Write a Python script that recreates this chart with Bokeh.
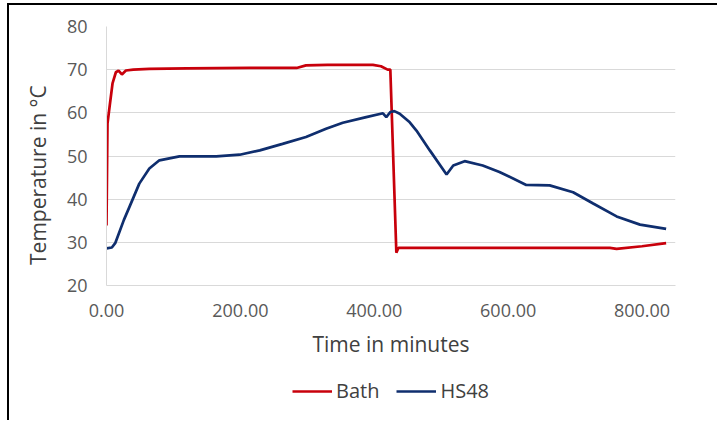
import math
from bokeh.plotting import figure
from bokeh.layouts import column
from bokeh.models import Range1d, Legend, LegendItem, FixedTicker, NumeralTickFormatter
from bokeh.embed import file_html
from bokeh.resources import INLINE

# ---- data ----
bath_time = [0, 1.5, 4.5, 9, 14, 18, 23, 29, 40, 64, 120, 214, 284, 298, 330,
             370, 398, 410, 420, 424, 433, 436, 500, 600, 700, 752, 762, 800, 836]
bath_temp = [33.9, 57.5, 61.3, 66.8, 69.4, 69.8, 68.9, 69.8, 70.0, 70.2, 70.3, 70.4, 70.4, 71.0, 71.1,
             71.1, 71.1, 70.8, 70.0, 70.0, 27.6, 28.7, 28.7, 28.7, 28.7, 28.7, 28.5, 29.1, 29.8]

hs48_time = [0, 8, 13, 19, 26, 34, 49, 64, 79, 109, 164, 199, 229, 263, 298, 328, 353, 388,
             413, 418, 424, 430, 438, 453, 463, 483, 508, 518, 535, 562, 587, 627, 662,
             697, 727, 762, 797, 836]
hs48_temp = [28.6, 28.8, 29.8, 32.3, 35.2, 38.1, 43.6, 47.1, 49.0, 49.9, 49.9, 50.3, 51.3, 52.8,
             54.4, 56.3, 57.7, 59.0, 59.9, 59.0, 60.2, 60.4, 59.8, 57.8, 55.9, 51.3, 45.7, 47.8,
             48.8, 47.8, 46.3, 43.3, 43.2, 41.6, 39.0, 36.0, 34.1, 33.1]

x_ticks = [0, 200, 400, 600, 800]
y_ticks = [20, 30, 40, 50, 60, 70, 80]
x_title = "Time in minutes"
y_title = "Temperature in °C"
series_names = ["Bath", "HS48"]
series_colors = ["#c8000b", "#0f2e6e"]

FONT = "Open Sans"
GRID = "#d9d9d9"

p = figure(
    output_backend="svg", toolbar_location=None,
    frame_width=569, frame_height=259,
    x_range=Range1d(0, 850), y_range=Range1d(20, 80),
    min_border_left=97, min_border_right=42, min_border_top=21, min_border_bottom=90,
)
p.outline_line_color = None
p.background_fill_color = "white"
p.border_fill_color = "white"

p.line(bath_time, bath_temp, line_color=series_colors[0], line_width=2.7)
p.line(hs48_time, hs48_temp, line_color=series_colors[1], line_width=2.7)

# axes
p.xaxis.ticker = FixedTicker(ticks=x_ticks)
p.yaxis.ticker = FixedTicker(ticks=y_ticks)
p.xaxis.formatter = NumeralTickFormatter(format="0.00")
for ax in (p.xaxis[0], p.yaxis[0]):
    ax.major_tick_line_color = None
    ax.minor_tick_line_color = None
    ax.axis_line_color = GRID
    ax.axis_line_width = 1
    ax.major_label_text_font = FONT
    ax.major_label_text_font_size = "18px"
    ax.major_label_text_color = "#595959"
    ax.axis_label_text_font = FONT
    ax.axis_label_text_font_size = "21px"
    ax.axis_label_text_font_style = "normal"
    ax.axis_label_text_color = "#404040"
p.xaxis.major_label_standoff = 12
p.yaxis.major_label_standoff = 13
p.xaxis.axis_label = x_title
p.xaxis.axis_label_standoff = 10
# trailing no-break spaces nudge the rotated title down, as in the original
p.yaxis.axis_label = y_title + "\u00a0" * 7
p.yaxis.axis_label_standoff = 12

p.xgrid.grid_line_color = None
p.ygrid.grid_line_color = GRID
p.ygrid.grid_line_width = 1

# legend strip below the chart (its series lie outside this strip's view)
p2 = figure(output_backend="svg", toolbar_location=None, width=708, height=45,
            x_range=Range1d(0, 1), y_range=Range1d(0, 1), min_border=0)
p2.axis.visible = False
p2.grid.grid_line_color = None
p2.outline_line_color = None
l1 = p2.line(bath_time, bath_temp, line_color=series_colors[0], line_width=2.7)
l2 = p2.line(hs48_time, hs48_temp, line_color=series_colors[1], line_width=2.7)
legend = Legend(items=[LegendItem(label=series_names[0], renderers=[l1]),
                       LegendItem(label=series_names[1], renderers=[l2])],
                orientation="horizontal", location=(186, 16))
legend.label_text_font = FONT
legend.label_text_font_size = "20px"
legend.label_text_color = "#404040"
legend.label_height = 20
legend.glyph_height = 20
legend.glyph_width = 40
legend.label_standoff = 4
legend.spacing = 17
legend.padding = 0
legend.margin = 0
legend.border_line_color = None
legend.background_fill_alpha = 0
p2.add_layout(legend)

layout = column(p, p2, spacing=0)
layout.styles = {"border-top": "2px solid black", "border-left": "2px solid black",
                 "margin-top": "3px", "margin-left": "7px"}

open("out.html", "w").write(file_html(layout, INLINE))
